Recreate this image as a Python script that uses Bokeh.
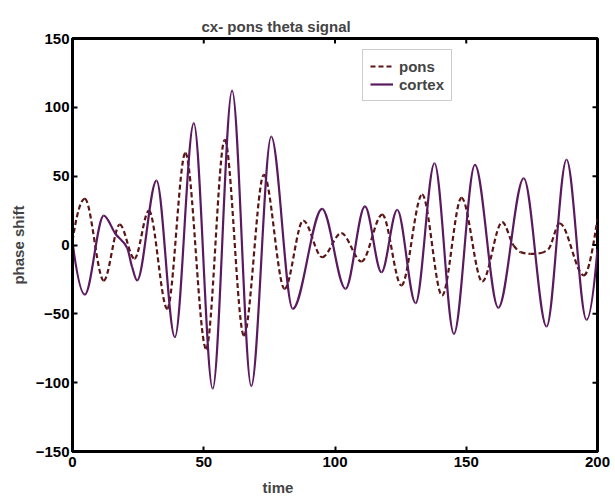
import math
from bokeh.plotting import figure
from bokeh.models import (Title, Legend, LegendItem, Range1d,
                          FixedTicker, ColumnDataSource)
from bokeh.embed import file_html
from bokeh.resources import INLINE

# ---------------- data (peaks, troughs, shape points) ----------------
title_text = "cx- pons theta signal"
x_label = "time"
y_label = "phase shift"
series_names = ["pons", "cortex"]
x_ticks = [0, 50, 100, 150, 200]
y_ticks = [-150, -100, -50, 0, 50, 100, 150]

cortex_t = [0, 4.7, 11.9, 16.4, 20.8, 22.7, 24.6, 32, 39, 46.2, 53.4, 60.8,
            68.1, 75.7, 83.9, 95.1, 104, 111.4, 117.7, 123.7, 130.7, 137.9,
            145.3, 153.3, 162.2, 171.9, 180.6, 188.2, 195.8, 200]
cortex_y = [2, -36, 21.4, 8, -2, -16, -25.8, 46.8, -67, 88.5, -104.4, 112.2,
            -102.5, 78.8, -46.3, 26.3, -31.8, 28, -19.8, 25.6, -42.3, 59.4,
            -64.5, 58.2, -45.6, 48.5, -59.2, 62.1, -54.3, -3]

pons_t = [0, 4.7, 11.9, 18, 23.6, 29.1, 36.1, 43, 50.9, 58, 65.3, 72.9, 80.8,
          87.9, 95.1, 102.4, 110.1, 118, 125.3, 133.2, 140.8, 148.2, 156.1,
          163.7, 168.1, 170.7, 174.5, 178.5, 181.3, 185.6, 194.8, 200]
pons_y = [3, 33.6, -25.8, 14.9, -10, 25, -46.3, 66.7, -75.4, 76.4, -65.7, 51,
          -31.8, 17.8, -8.9, 8.6, -12, 22.1, -29.4, 36.7, -36.7, 34.3, -26.5,
          16.6, -0.5, -5.2, -6.4, -5.8, -3, 15.8, -22.1, 19]


def smooth_segments(xs, ys):
    """Monotone cubic (Fritsch-Carlson) tangents -> Bezier control points,
    so the curve passes smoothly through the read points."""
    n = len(xs)
    h = [xs[i + 1] - xs[i] for i in range(n - 1)]
    d = [(ys[i + 1] - ys[i]) / h[i] for i in range(n - 1)]
    m = [0.0] * n
    for k in range(1, n - 1):
        if d[k - 1] * d[k] <= 0:
            m[k] = 0.0
        else:
            w1 = 2 * h[k] + h[k - 1]
            w2 = h[k] + 2 * h[k - 1]
            m[k] = (w1 + w2) / (w1 / d[k - 1] + w2 / d[k])

    def end_slope(h0, h1, d0, d1):
        s = ((2 * h0 + h1) * d0 - h0 * d1) / (h0 + h1)
        if s * d0 <= 0:
            return 0.0
        if d0 * d1 < 0 and abs(s) > 3 * abs(d0):
            return 3 * d0
        return s

    m[0] = end_slope(h[0], h[1], d[0], d[1])
    m[-1] = end_slope(h[-1], h[-2], d[-1], d[-2])
    seg = dict(x0=[], y0=[], x1=[], y1=[], cx0=[], cy0=[], cx1=[], cy1=[])
    for i in range(n - 1):
        seg["x0"].append(xs[i]); seg["y0"].append(ys[i])
        seg["x1"].append(xs[i + 1]); seg["y1"].append(ys[i + 1])
        seg["cx0"].append(xs[i] + h[i] / 3); seg["cy0"].append(ys[i] + m[i] * h[i] / 3)
        seg["cx1"].append(xs[i + 1] - h[i] / 3); seg["cy1"].append(ys[i + 1] - m[i + 1] * h[i] / 3)
    return ColumnDataSource(seg)


# ---------------- styles ----------------
FONT = "Liberation Sans"
cortex_color = "#5b1a5f"
pons_color = "#5a1616"

p = figure(width=615, height=502, output_backend="svg", toolbar_location=None,
           x_range=Range1d(0, 200), y_range=Range1d(-150, 150),
           min_border_left=72, min_border_right=18, min_border_top=38,
           min_border_bottom=51)
p.background_fill_color = "white"
p.border_fill_color = "white"
p.xgrid.visible = False
p.ygrid.visible = False
p.outline_line_color = "black"
p.outline_line_width = 3

p.title.text = title_text
p.title.align = "left"
p.title.offset = 129
p.title.text_font = FONT
p.title.text_font_size = "15px"
p.title.text_font_style = "bold"
p.title.standoff = 8

src_p = smooth_segments(pons_t, pons_y)
src_c = smooth_segments(cortex_t, cortex_y)
r_pons = p.bezier(x0="x0", y0="y0", x1="x1", y1="y1", cx0="cx0", cy0="cy0",
                  cx1="cx1", cy1="cy1", source=src_p, line_color=pons_color,
                  line_width=2.2, line_dash="5 3")
r_cortex = p.bezier(x0="x0", y0="y0", x1="x1", y1="y1", cx0="cx0", cy0="cy0",
                    cx1="cx1", cy1="cy1", source=src_c, line_color=cortex_color,
                    line_width=2.2)

# inward ticks on the top and right edges of the box
p.ray(x=x_ticks, y=[150] * len(x_ticks), length=5, length_units="screen",
      angle=-math.pi / 2, line_color="black", line_width=2)
p.ray(x=[200] * len(y_ticks), y=y_ticks, length=5, length_units="screen",
      angle=math.pi, line_color="black", line_width=2)

p.xaxis.ticker = FixedTicker(ticks=x_ticks)
p.yaxis.ticker = FixedTicker(ticks=y_ticks)

for ax in p.xaxis + p.yaxis:
    ax.axis_line_width = 3
    ax.axis_line_color = "black"
    ax.major_tick_in = 5
    ax.major_tick_out = 0
    ax.major_tick_line_width = 2
    ax.minor_tick_line_color = None
    ax.major_label_text_font = FONT
    ax.major_label_text_font_size = "15px"
    ax.major_label_text_font_style = "bold"
    ax.major_label_text_color = "black"

left = p.left[0]
left.major_label_standoff = 3
left.axis_label = y_label
left.axis_label_text_font = FONT
left.axis_label_text_font_size = "15px"
left.axis_label_text_font_style = "bold"
left.axis_label_standoff = 6

below = p.below[0]
below.major_label_standoff = 5

xt = Title(text=x_label, align="left", offset=190, text_font=FONT,
           text_font_size="15px", text_font_style="bold", standoff=14)
p.add_layout(xt, "below")

legend = Legend(items=[LegendItem(label=series_names[0], renderers=[r_pons], index=0),
                       LegendItem(label=series_names[1], renderers=[r_cortex], index=0)],
                location=(290, 350))
legend.border_line_color = "#9a9a9a"
legend.border_line_width = 1
legend.background_fill_color = "white"
legend.background_fill_alpha = 1
legend.label_text_font = FONT
legend.label_text_font_size = "15px"
legend.label_text_font_style = "bold"
legend.glyph_width = 23
legend.glyph_height = 18
legend.label_height = 18
legend.label_standoff = 6
legend.padding = 7
legend.spacing = 0
legend.margin = 0
p.add_layout(legend)

open("out.html", "w").write(file_html(p, INLINE))
